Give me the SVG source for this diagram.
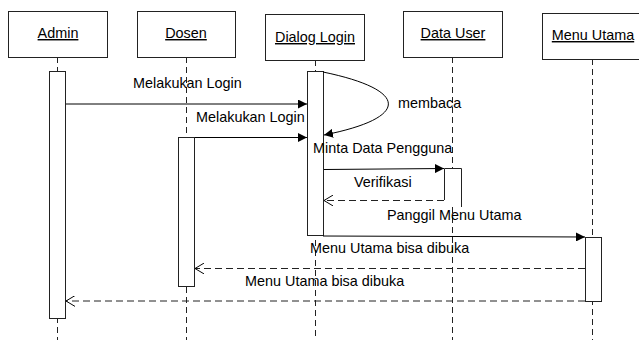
<svg xmlns="http://www.w3.org/2000/svg" width="639" height="340" viewBox="0 0 639 340">
  <defs>
    <marker id="solid" viewBox="0 0 10 10" refX="10" refY="5" markerWidth="9" markerHeight="9" markerUnits="userSpaceOnUse" orient="auto">
      <path d="M0,0 L10,5 L0,10 Z" fill="#000"/>
    </marker>
    <marker id="open" viewBox="0 0 10 12" refX="10" refY="6" markerWidth="9" markerHeight="11" markerUnits="userSpaceOnUse" orient="auto">
      <path d="M0,0 L10,6 L0,12" fill="none" stroke="#000" stroke-width="1.1"/>
    </marker>
    <style>
      text { font-family: "Liberation Sans", Arial, sans-serif; font-size: 14.4px; fill: #000; }
      .head { text-anchor: middle; text-decoration: underline; }
      .box { fill: #fff; stroke: #222; stroke-width: 1; }
      .life { stroke: #222; stroke-width: 1; stroke-dasharray: 6 4; fill: none; }
      .act { fill: #fff; stroke: #222; stroke-width: 1; }
      .msg { stroke: #000; stroke-width: 1; fill: none; marker-end: url(#solid); }
      .ret { stroke: #222; stroke-width: 1; fill: none; stroke-dasharray: 7 4; marker-end: url(#open); }
    </style>
  </defs>
  <rect width="639" height="340" fill="#fff"/>

  <!-- lifelines -->
  <g id="lifelines">
    <line class="life" x1="57.5" y1="57" x2="57.5" y2="340"/>
    <line class="life" x1="186.5" y1="57" x2="186.5" y2="340"/>
    <line class="life" x1="315.5" y1="60" x2="315.5" y2="340"/>
    <line class="life" x1="452.5" y1="57" x2="452.5" y2="340"/>
    <line class="life" x1="592.5" y1="59" x2="592.5" y2="340"/>
  </g>

  <g id="admin">
    <rect class="box" x="8.5" y="11.5" width="99" height="46"/>
    <text class="head" x="58" y="38">Admin</text>
    <rect class="act" x="49.5" y="71.5" width="16" height="247"/>
  </g>
  <g id="dosen">
    <rect class="box" x="137.5" y="11.5" width="98" height="46"/>
    <text class="head" x="186" y="38">Dosen</text>
    <rect class="act" x="178.5" y="137.5" width="16" height="149"/>
  </g>
  <g id="dialog-login">
    <rect class="box" x="265.5" y="14.5" width="99" height="46"/>
    <text class="head" x="315" y="42">Dialog Login</text>
    <rect class="act" x="307.5" y="71.5" width="16" height="164"/>
  </g>
  <g id="data-user">
    <rect class="box" x="403.5" y="11.5" width="99" height="46"/>
    <text class="head" x="453" y="38">Data User</text>
    <path d="M444.5,200 V168.5 H461.5 V207" fill="#fff" stroke="#222"/>
  </g>
  <g id="menu-utama">
    <rect class="box" x="542.5" y="13.5" width="100" height="46"/>
    <text class="head" x="593" y="40">Menu Utama</text>
    <rect class="act" x="585.5" y="237.5" width="16" height="64"/>
  </g>

  <!-- messages -->
  <g id="connectors">
    <line class="msg" x1="66" y1="104" x2="307" y2="104"/>
    <line class="msg" x1="195" y1="137.5" x2="307" y2="137.5"/>
    <path class="msg" d="M323,72 C410,90 410,118 324,135"/>
    <line class="msg" x1="324" y1="169.5" x2="444" y2="168.5"/>
    <line class="ret" x1="444" y1="200.5" x2="324" y2="200.5"/>
    <line class="msg" x1="323" y1="236" x2="585" y2="237"/>
    <line class="ret" x1="585" y1="268.5" x2="195" y2="268.5"/>
    <line class="ret" x1="585" y1="301" x2="66" y2="301"/>
  </g>

  <g id="labels">
    <text x="133" y="88">Melakukan Login</text>
    <text x="196" y="122">Melakukan Login</text>
    <text x="398" y="108">membaca</text>
    <text x="313" y="153">Minta Data Pengguna</text>
    <text x="354" y="187">Verifikasi</text>
    <text x="387" y="220">Panggil Menu Utama</text>
    <text x="310" y="253">Menu Utama bisa dibuka</text>
    <text x="245" y="286">Menu Utama bisa dibuka</text>
  </g>
</svg>
